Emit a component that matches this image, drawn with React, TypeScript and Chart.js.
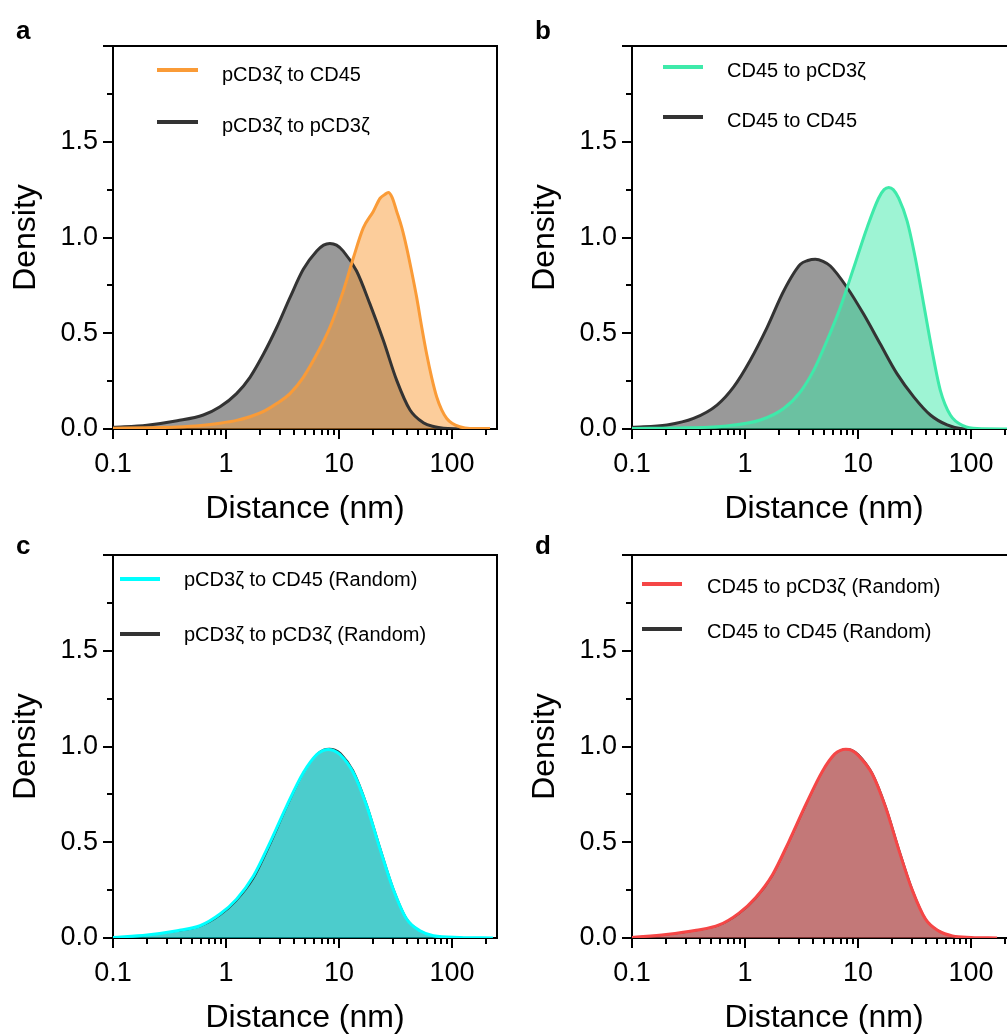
import React, { useEffect, useRef } from 'react';
import { Chart, registerables } from 'chart.js';

Chart.register(...registerables);

const FONT = "'Liberation Sans', Arial, Helvetica, sans-serif";

// ---------------- data ----------------
// Panel a
const A_CD45_X = [0.1, 0.2, 0.37, 0.6, 0.885, 1.24, 1.63, 2.2, 2.81, 3.68, 4.83, 6.35, 8.3, 10.9, 13.4, 16.4, 20.1, 23.1, 25.5, 27.3, 29.5, 32.4, 36, 39.7, 44, 48.7, 54, 59.7, 66, 73.2, 81, 89.8, 100, 117, 144, 217];
const A_CD45_Y = [0.004, 0.006, 0.01, 0.018, 0.03, 0.045, 0.064, 0.095, 0.133, 0.185, 0.27, 0.39, 0.53, 0.72, 0.894, 1.05, 1.136, 1.205, 1.225, 1.235, 1.21, 1.136, 1.05, 0.946, 0.82, 0.686, 0.53, 0.39, 0.27, 0.167, 0.1, 0.055, 0.03, 0.012, 0.003, 0.002];
const A_SELF_X = [0.1, 0.2, 0.37, 0.63, 0.885, 1.24, 1.63, 2.14, 2.81, 3.68, 4.83, 6.35, 7.3, 8.3, 9.5, 10.9, 14.3, 18.8, 24.7, 32.4, 42.5, 55.7, 70, 83.8, 117];
const A_SELF_Y = [0.009, 0.02, 0.043, 0.073, 0.116, 0.185, 0.27, 0.39, 0.53, 0.686, 0.834, 0.929, 0.96, 0.969, 0.96, 0.929, 0.825, 0.652, 0.462, 0.254, 0.099, 0.033, 0.012, 0.004, 0.0];

// Panel b
const B_PCD3_X = [0.1, 0.3, 0.69, 1.37, 2.2, 3.09, 4.05, 5.32, 6.97, 9.16, 12.0, 15.2, 17, 18.7, 20.5, 22.9, 27.2, 32.1, 38.1, 45.2, 53.5, 65.6, 86, 113, 210];
const B_PCD3_Y = [0.003, 0.006, 0.016, 0.047, 0.107, 0.194, 0.306, 0.462, 0.635, 0.842, 1.05, 1.205, 1.25, 1.261, 1.25, 1.205, 1.085, 0.894, 0.652, 0.41, 0.202, 0.073, 0.016, 0.002, 0.0];
const B_SELF_X = [0.1, 0.204, 0.35, 0.565, 0.794, 1.11, 1.57, 2.2, 3.09, 3.6, 4.19, 4.9, 5.69, 8.0, 11.2, 15.7, 22.1, 31.1, 43.7, 61.4, 80.5, 110];
const B_SELF_Y = [0.009, 0.021, 0.055, 0.125, 0.22, 0.358, 0.531, 0.721, 0.86, 0.88, 0.886, 0.875, 0.851, 0.739, 0.6, 0.445, 0.289, 0.168, 0.073, 0.021, 0.003, 0.0];

// Panel c
const C_CD45_X = [0.1, 0.2, 0.37, 0.59, 0.885, 1.24, 1.75, 2.45, 3.44, 4.83, 6.35, 7.2, 8.04, 9.0, 10.2, 13.4, 17.6, 23.1, 30.2, 39.7, 52.1, 68.4, 117, 230];
const C_CD45_Y = [0.003, 0.016, 0.038, 0.064, 0.125, 0.203, 0.324, 0.498, 0.689, 0.863, 0.958, 0.978, 0.984, 0.978, 0.958, 0.863, 0.689, 0.464, 0.255, 0.099, 0.038, 0.012, 0.003, 0.0];
const C_SELF_X = [0.1, 0.2, 0.37, 0.59, 0.885, 1.24, 1.75, 2.45, 3.44, 4.83, 6.35, 7.3, 8.2, 9.2, 10.4, 13.4, 17.6, 23.1, 30.2, 39.7, 52.1, 68.4, 117, 230];
const C_SELF_Y = [0.003, 0.015, 0.036, 0.06, 0.118, 0.195, 0.31, 0.485, 0.68, 0.86, 0.96, 0.985, 0.99, 0.985, 0.965, 0.875, 0.7, 0.475, 0.262, 0.102, 0.038, 0.012, 0.003, 0.0];

// Panel d
const D_PCD3_X = [0.1, 0.2, 0.37, 0.59, 0.885, 1.24, 1.75, 2.45, 3.44, 4.83, 6.2, 7.0, 7.8, 8.8, 10.0, 13.4, 17.6, 23.1, 30.2, 39.7, 52.1, 68.4, 100, 170];
const D_PCD3_Y = [0.003, 0.018, 0.04, 0.068, 0.13, 0.21, 0.33, 0.505, 0.695, 0.87, 0.96, 0.98, 0.985, 0.98, 0.955, 0.855, 0.68, 0.455, 0.25, 0.097, 0.036, 0.011, 0.003, 0.0];
const D_SELF_X = [0.1, 0.2, 0.37, 0.59, 0.885, 1.24, 1.75, 2.45, 3.44, 4.83, 6.3, 7.1, 7.9, 8.9, 10.1, 13.4, 17.6, 23.1, 30.2, 39.7, 52.1, 68.4, 100, 170];
const D_SELF_Y = [0.003, 0.017, 0.039, 0.066, 0.126, 0.205, 0.325, 0.5, 0.69, 0.868, 0.962, 0.982, 0.988, 0.982, 0.96, 0.862, 0.69, 0.465, 0.257, 0.1, 0.037, 0.011, 0.003, 0.0];

// ticks
const X_MIN = 0.1;
const X_MAX = 250;
const Y_MIN = 0;
const Y_MAX = 2;
const X_MAJOR = [0.1, 1, 10, 100];
const X_MAJOR_LABELS = ['0.1', '1', '10', '100'];
const X_MINOR = [0.2, 0.3, 0.4, 0.5, 0.6, 0.7, 0.8, 0.9, 2, 3, 4, 5, 6, 7, 8, 9, 20, 30, 40, 50, 60, 70, 80, 90, 200];
const Y_MAJOR = [0, 0.5, 1, 1.5, 2];
const Y_MAJOR_LABELS = ['0.0', '0.5', '1.0', '1.5', ''];
const Y_MINOR = [0.25, 0.75, 1.25, 1.75];

const X_TITLE = 'Distance (nm)';
const Y_TITLE = 'Density';

// ---------------- panels ----------------
const ORANGE = 'rgb(250,155,55)';
const GREEN = 'rgb(62,234,170)';
const CYAN = 'rgb(0,255,255)';
const RED = 'rgb(245,70,70)';
const DARK = '#333333';

const PANELS = [
  {
    letter: 'a', left: 0, top: 0, letterY: 39,
    legend: { lineX0: 157, lineX1: 198, textX: 222, lineYs: [70, 122], textYs: [81, 132] },
    series: [
      { label: 'pCD3ζ to CD45', xs: A_CD45_X, ys: A_CD45_Y, line: ORANGE, fill: 'rgba(250,155,55,0.5)', width: 3 },
      { label: 'pCD3ζ to pCD3ζ', xs: A_SELF_X, ys: A_SELF_Y, line: DARK, fill: 'rgba(0,0,0,0.4)', width: 3 },
    ],
  },
  {
    letter: 'b', left: 519, top: 0, letterY: 39,
    legend: { lineX0: 144, lineX1: 184, textX: 208, lineYs: [67, 117], textYs: [77, 127] },
    series: [
      { label: 'CD45 to pCD3ζ', xs: B_PCD3_X, ys: B_PCD3_Y, line: GREEN, fill: 'rgba(62,234,170,0.5)', width: 3 },
      { label: 'CD45 to CD45', xs: B_SELF_X, ys: B_SELF_Y, line: DARK, fill: 'rgba(0,0,0,0.4)', width: 3 },
    ],
  },
  {
    letter: 'c', left: 0, top: 509, letterY: 45,
    legend: { lineX0: 120, lineX1: 160, textX: 184, lineYs: [70, 125], textYs: [77, 132] },
    series: [
      { label: 'pCD3ζ to CD45 (Random)', xs: C_CD45_X, ys: C_CD45_Y, line: CYAN, fill: 'rgba(0,255,255,0.5)', width: 3 },
      { label: 'pCD3ζ to pCD3ζ (Random)', xs: C_SELF_X, ys: C_SELF_Y, line: DARK, fill: 'rgba(0,0,0,0.4)', width: 1.5 },
    ],
  },
  {
    letter: 'd', left: 519, top: 509, letterY: 45,
    legend: { lineX0: 123, lineX1: 163, textX: 188, lineYs: [75, 120], textYs: [84, 129] },
    series: [
      { label: 'CD45 to pCD3ζ (Random)', xs: D_PCD3_X, ys: D_PCD3_Y, line: RED, fill: 'rgba(237,87,87,0.5)', width: 3 },
      { label: 'CD45 to CD45 (Random)', xs: D_SELF_X, ys: D_SELF_Y, line: DARK, fill: 'rgba(0,0,0,0.4)', width: 1.5 },
    ],
  },
];

const CANVAS_W = 519;
const CANVAS_H = 530;

function makeDecor(p: any) {
  return {
    id: 'decor',
    afterDraw(chart: any) {
      const ctx = chart.ctx;
      ctx.save();
      ctx.fillStyle = '#000';
      ctx.textAlign = 'left';
      ctx.textBaseline = 'alphabetic';
      ctx.font = `bold 26px ${FONT}`;
      ctx.fillText(p.letter, 16, p.letterY);
      ctx.font = `20px ${FONT}`;
      p.series.forEach((s: any, i: number) => {
        const ly = p.legend.lineYs[i];
        ctx.strokeStyle = s.line;
        ctx.lineWidth = 4;
        ctx.beginPath();
        ctx.moveTo(p.legend.lineX0, ly);
        ctx.lineTo(p.legend.lineX1, ly);
        ctx.stroke();
        ctx.fillStyle = '#000';
        ctx.fillText(s.label, p.legend.textX, p.legend.textYs[i]);
      });
      ctx.restore();
    },
  };
}

function Panel({ p }: { p: any }) {
  const ref = useRef<HTMLCanvasElement | null>(null);
  useEffect(() => {
    if (!ref.current) return;
    const tickFont = { family: FONT, size: 27 };
    const titleFont = { family: FONT, size: 32 };
    const chart = new Chart(ref.current, {
      type: 'line',
      data: {
        datasets: p.series.map((s: any) => ({
          label: s.label,
          data: s.xs.map((x: number, i: number) => ({ x, y: s.ys[i] })),
          borderColor: s.line,
          backgroundColor: s.fill,
          borderWidth: s.width,
          fill: 'origin',
          pointRadius: 0,
          cubicInterpolationMode: 'monotone',
          xAxisID: 'x',
          yAxisID: 'y',
        })),
      },
      options: {
        animation: false,
        responsive: false,
        devicePixelRatio: 1,
        layout: { padding: { left: 0, top: 46, right: CANVAS_W - 497, bottom: 2 } },
        plugins: {
          legend: { display: false },
          tooltip: { enabled: false },
          filler: { drawTime: 'beforeDatasetsDraw' },
        },
        scales: {
          x: {
            type: 'logarithmic',
            position: 'bottom',
            weight: 1,
            min: X_MIN,
            max: X_MAX,
            afterBuildTicks: (s: any) => { s.ticks = X_MAJOR.map((v) => ({ value: v })); },
            afterFit: (s: any) => { s.height = CANVAS_H - 2 - 429; },
            ticks: {
              autoSkip: false,
              maxRotation: 0,
              padding: 9,
              font: tickFont,
              color: '#000',
              callback: (v: any) => { const i = X_MAJOR.indexOf(Number(v)); return i >= 0 ? X_MAJOR_LABELS[i] : ''; },
            },
            grid: { drawOnChartArea: false, drawTicks: true, tickLength: 10, tickWidth: 2, tickColor: '#000', lineWidth: 2 },
            border: { display: true, color: '#000', width: 2 },
            title: { display: true, text: X_TITLE, font: titleFont, color: '#000', padding: 0 },
          },
          xMinor: {
            type: 'logarithmic',
            position: 'bottom',
            weight: 0,
            min: X_MIN,
            max: X_MAX,
            afterBuildTicks: (s: any) => { s.ticks = X_MINOR.map((v) => ({ value: v })); },
            afterFit: (s: any) => { s.height = 0; },
            ticks: { display: false },
            grid: { drawOnChartArea: false, drawTicks: true, tickLength: 6, tickWidth: 2, tickColor: '#000', lineWidth: 2 },
            border: { display: false },
          },
          xTop: {
            type: 'linear',
            position: 'top',
            afterFit: (s: any) => { s.height = 0; },
            ticks: { display: false },
            grid: { drawOnChartArea: false, drawTicks: false },
            border: { display: true, color: '#000', width: 2 },
          },
          y: {
            type: 'linear',
            position: 'left',
            weight: 1,
            min: Y_MIN,
            max: Y_MAX,
            afterBuildTicks: (s: any) => { s.ticks = Y_MAJOR.map((v) => ({ value: v })); },
            afterFit: (s: any) => { s.width = 113; },
            ticks: {
              autoSkip: false,
              padding: 5,
              font: tickFont,
              color: '#000',
              callback: (v: any) => { const i = Y_MAJOR.indexOf(Number(v)); return i >= 0 ? Y_MAJOR_LABELS[i] : ''; },
            },
            grid: { drawOnChartArea: false, drawTicks: true, tickLength: 10, tickWidth: 2, tickColor: '#000', lineWidth: 2 },
            border: { display: true, color: '#000', width: 2 },
            title: { display: true, text: Y_TITLE, font: titleFont, color: '#000', padding: { top: 7, bottom: 0 } },
          },
          yMinor: {
            type: 'linear',
            position: 'left',
            weight: 0,
            min: Y_MIN,
            max: Y_MAX,
            afterBuildTicks: (s: any) => { s.ticks = Y_MINOR.map((v) => ({ value: v })); },
            afterFit: (s: any) => { s.width = 0; },
            ticks: { display: false },
            grid: { drawOnChartArea: false, drawTicks: true, tickLength: 6, tickWidth: 2, tickColor: '#000', lineWidth: 2 },
            border: { display: false },
          },
          yRight: {
            type: 'linear',
            position: 'right',
            afterFit: (s: any) => { s.width = 0; },
            ticks: { display: false },
            grid: { drawOnChartArea: false, drawTicks: false },
            border: { display: true, color: '#000', width: 2 },
          },
        },
      } as any,
      plugins: [makeDecor(p)],
    } as any);
    return () => chart.destroy();
  }, [p]);
  return (
    <canvas
      ref={ref}
      width={CANVAS_W}
      height={CANVAS_H}
      style={{ position: 'absolute', left: p.left, top: p.top, width: CANVAS_W, height: CANVAS_H, display: 'block' }}
    />
  );
}

export default function App() {
  return (
    <div style={{ position: 'fixed', left: 0, top: 0, width: 1007, height: 1034, overflow: 'hidden', background: '#fff' }}>
      {PANELS.map((p) => (
        <Panel key={p.letter} p={p} />
      ))}
    </div>
  );
}
